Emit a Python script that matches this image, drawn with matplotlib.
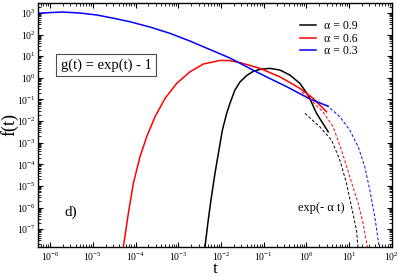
import numpy as np
import matplotlib
matplotlib.use("Agg")
import matplotlib.pyplot as plt
from matplotlib.ticker import LogLocator, NullFormatter

# ---------- Style ----------
plt.rcParams.update({
    "font.family": "serif",
    "font.serif": ["Liberation Serif", "DejaVu Serif"],
    "mathtext.fontset": "stix",
})

# ---------- Data ----------
# alpha = 0.9 (solid)
t_09 = [3.84e-3, 4.23e-3, 4.97e-3, 5.83e-3, 7.24e-3, 8.97e-3, 1.08e-2, 1.36e-2,
        1.63e-2, 2.12e-2, 2.78e-2, 3.99e-2, 5.61e-2, 8.17e-2, 0.140, 0.240,
        0.411, 0.705, 1.10, 1.73, 3.24]
f_09 = [3.0e-9, 1.5e-8, 2.1e-7, 2.2e-6, 3.8e-5, 4.5e-4, 3.8e-3, 2.27e-2,
        6.8e-2, 0.272, 0.64, 1.28, 1.96, 2.48, 2.75, 2.30,
        1.35, 0.556, 0.16, 2.27e-2, 3.2e-3]

# alpha = 0.6 (solid)
t_06 = [4.58e-5, 5.19e-5, 6.79e-5, 8.89e-5, 1.27e-4, 1.83e-4, 2.86e-4, 4.9e-4,
        9.2e-4, 1.88e-3, 3.85e-3, 9.5e-3, 1.63e-2, 2.78e-2, 8.2e-2, 0.24,
        0.705, 1.44, 2.97]
f_06 = [3.0e-9, 1.5e-8, 5.3e-7, 1.3e-5, 2.2e-4, 1.9e-3, 1.58e-2, 0.112,
        0.556, 1.91, 4.36, 6.4, 6.3, 5.1, 2.75, 1.12,
        0.327, 0.112, 0.027]

# alpha = 0.3 (solid)
t_03 = [5.24e-7, 1.0e-6, 2.01e-6, 5.04e-6, 1.26e-5, 3.31e-5, 7.43e-5, 2.18e-4,
        6.41e-4, 1.88e-3, 5.53e-3, 1.63e-2, 5.61e-2, 0.14, 0.35, 1.21, 3.18]
f_03 = [968, 1054, 1112, 1000, 807, 556, 395, 225,
        115, 50.6, 20.4, 8.26, 2.3, 0.93, 0.387, 0.1045, 0.0494]

# exp(-alpha t) asymptotes (dashed)
ta_09 = [0.923, 2.07, 3.88, 6.08, 8.71, 11.4, 14.9, 16.0, 17.4]
fa_09 = [2.27e-2, 5.4e-3, 1.32e-3, 1.56e-4, 1.3e-5, 1.08e-6, 9.0e-8, 1.8e-8, 3.0e-9]

ta_06 = [0.785, 1.35, 2.47, 4.24, 6.65, 10.4, 16.3, 21.3, 26.4, 29.0]
fa_06 = [0.22, 8.4e-2, 2.6e-2, 5.4e-3, 4.5e-4, 2.6e-5, 1.55e-6, 1.84e-7, 1.8e-8, 3.0e-9]

ta_03 = [2.97, 6.08, 10.4, 16.3, 23.3, 30.6, 40.0, 49.7, 53.8]
fa_03 = [5.5e-2, 1.58e-2, 3.8e-3, 6.5e-4, 7.7e-5, 6.4e-6, 3.7e-7, 1.8e-8, 3.0e-9]

labels = ["α = 0.9", "α = 0.6", "α = 0.3"]
colors = ["black", "red", "blue"]

# ---------- Plot ----------
fig, ax = plt.subplots(figsize=(3.99, 2.77), dpi=100)
fig.subplots_adjust(left=0.096, right=0.982, bottom=0.109, top=0.989)

solid = [(t_09, f_09), (t_06, f_06), (t_03, f_03)]
dashed = [(ta_09, fa_09), (ta_06, fa_06), (ta_03, fa_03)]

for (t, f), c, lab in zip(solid, colors, labels):
    ax.plot(t, f, color=c, lw=1.1, label=lab)
for (t, f), c in zip(dashed, colors):
    ax.plot(t, f, color=c, lw=0.7, dashes=(3, 2))

ax.set_xscale("log")
ax.set_yscale("log")
ax.set_xlim(5.3e-7, 1e2)
ax.set_ylim(1.52e-8, 2900)

for axis in (ax.xaxis, ax.yaxis):
    axis.set_major_locator(LogLocator(base=10, numticks=100))
    axis.set_minor_locator(LogLocator(base=10, subs=np.arange(2, 10), numticks=100))
    axis.set_minor_formatter(NullFormatter())

ax.tick_params(which="both", direction="in", top=True, right=True, labelsize=7)
ax.tick_params(which="major", length=3.6, width=0.8)
ax.tick_params(which="minor", length=2.0, width=0.6)
ax.tick_params(axis="x", pad=3)
ax.tick_params(axis="y", pad=2)
for s in ax.spines.values():
    s.set_linewidth(1.0)

ax.set_xlabel("t", fontsize=12.5, labelpad=-1.5)
ax.set_ylabel("f(t)", fontsize=13, labelpad=-1.5)

ax.text(0.1916, 0.7456, "g(t) = exp(t) - 1", transform=ax.transAxes,
        ha="center", va="center", fontsize=10.5,
        bbox=dict(boxstyle="square,pad=0.3", fc="white", ec="0.3", lw=0.8))
ax.text(0.0925, 0.142, "d)", transform=ax.transAxes, ha="center", va="center",
        fontsize=11)
ax.text(0.80, 0.159, "exp(- α t)", transform=ax.transAxes,
        ha="center", va="center", fontsize=9)

ax.legend(loc="upper left", bbox_to_anchor=(0.7405, 0.93), frameon=False,
          fontsize=8.5, borderpad=0, borderaxespad=0, handlelength=1.36,
          handletextpad=0.64, labelspacing=0.05)

plt.savefig("out.png", dpi=100)
